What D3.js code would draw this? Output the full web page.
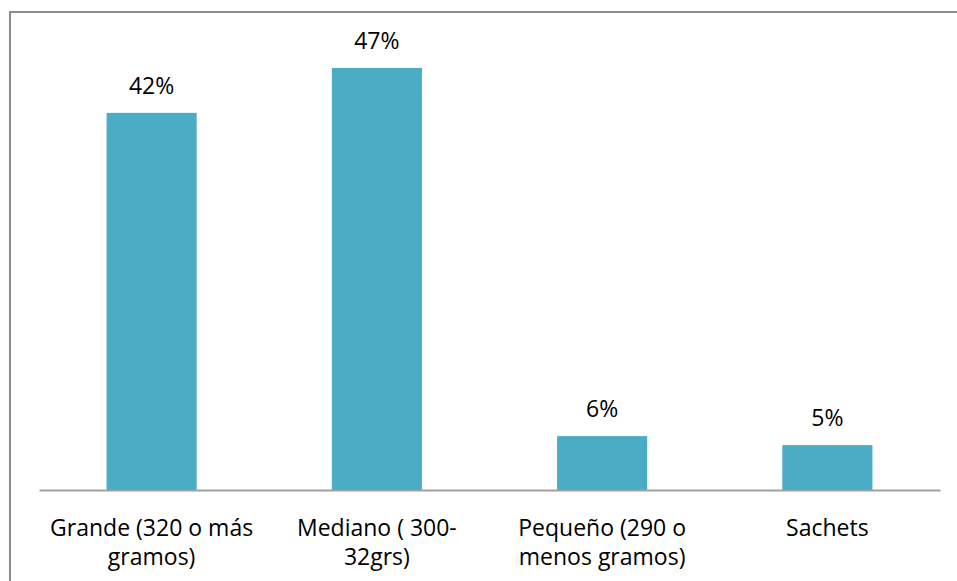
<!DOCTYPE html>
<html>
<head>
<meta charset="utf-8">
<script src="https://cdn.jsdelivr.net/npm/d3@7"></script>
<style>
  body { margin: 0; background: #fff; }
  svg { display: block; }
</style>
</head>
<body>
<div id="chart"></div>
<script>
// Category labels (line breaks as in the original)
const categories = [
    "Grande (320 o más\ngramos)",
    "Mediano ( 300-\n32grs)",
    "Pequeño (290 o\nmenos gramos)",
    "Sachets",
];
const values = [42, 47, 6, 5];

const width = 957;
const height = 581;
const margin = { top: 41, right: 16, bottom: 91, left: 39 };

const svg = d3
    .select("#chart")
    .append("svg")
    .attr("width", width)
    .attr("height", height);

// outer frame (only left and top edges fall inside the picture)
svg.append("rect")
    .attr("x", 10)
    .attr("y", 12)
    .attr("width", width + 20)
    .attr("height", height + 20)
    .attr("fill", "none")
    .attr("stroke", "#8c8c8c")
    .attr("stroke-width", 2);

const x = d3
    .scaleBand()
    .domain(categories)
    .range([margin.left, width - margin.right - 1])
    .paddingInner(0.6)
    .paddingOuter(0.3);

const y = d3
    .scaleLinear()
    .domain([0, 50])
    .range([height - margin.bottom, margin.top]);

// bars
svg.selectAll("rect.bar")
    .data(values)
    .enter()
    .append("rect")
    .attr("class", "bar")
    .attr("x", (d, i) => x(categories[i]))
    .attr("y", (d) => y(d))
    .attr("width", x.bandwidth())
    .attr("height", (d) => y(0) - y(d))
    .attr("fill", "#4BACC6");

// value labels
svg.selectAll("text.value")
    .data(values)
    .enter()
    .append("text")
    .attr("class", "value")
    .attr("x", (d, i) => x(categories[i]) + x.bandwidth() / 2)
    .attr("y", (d) => y(d) - 19)
    .attr("text-anchor", "middle")
    .attr("font-family", "'Open Sans', sans-serif")
    .attr("font-size", 23)
    .attr("fill", "#000")
    .text((d) => d + "%");

// x axis
const axis = svg.append("g")
    .attr("transform", `translate(0,${y(0)})`)
    .call(d3.axisBottom(x).tickSize(0).tickFormat(""));
axis.select(".domain").attr("stroke", "#a0a0a0").attr("stroke-width", 2);

// category labels
const labels = svg.selectAll("text.cat")
    .data(categories)
    .enter()
    .append("text")
    .attr("class", "cat")
    .attr("text-anchor", "middle")
    .attr("font-family", "'Open Sans', sans-serif")
    .attr("font-size", 23)
    .attr("fill", "#000");

labels.selectAll("tspan")
    .data((d) => d.split("\n").map((t) => ({ t, c: d })))
    .enter()
    .append("tspan")
    .attr("x", (d) => x(d.c) + x.bandwidth() / 2)
    .attr("y", (d, i) => y(0) + 46 + i * 29)
    .text((d) => d.t);
</script>
</body>
</html>
